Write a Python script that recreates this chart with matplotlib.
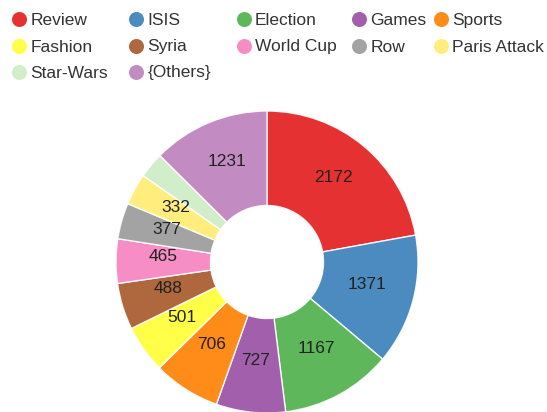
import matplotlib
matplotlib.use("Agg")
import matplotlib.pyplot as plt
from matplotlib.lines import Line2D
import numpy as np

plt.rcParams['font.family'] = ['Liberation Sans', 'DejaVu Sans']

categories = ["Review", "ISIS", "Election", "Games", "Sports", "Fashion",
              "Syria", "World Cup", "Row", "Paris Attack", "Star-Wars", "{Others}"]
values = [2172, 1371, 1167, 727, 706, 501, 488, 465, 377, 332, 270, 1231]
colors = ["#e41a1c", "#377eb8", "#4daf4a", "#984ea3", "#ff7f00", "#ffff33",
          "#a65628", "#f781bf", "#999999", "#ffed6f", "#ccebc5", "#bc80bd"]
label_min = 300

W, H = 547, 412
fig = plt.figure(figsize=(W / 100, H / 100), dpi=100)

cx, cy, r = 267, 262, 151
ax = fig.add_axes([(cx - r) / W, (H - cy - r) / H, 2 * r / W, 2 * r / H])
inner = 56.5 / r
ax.pie(values, colors=colors, startangle=90, counterclock=False, radius=1.0,
       wedgeprops=dict(width=1 - inner, edgecolor="white", linewidth=1.0, alpha=0.9))
ax.set_xlim(-1, 1)
ax.set_ylim(-1, 1)
ax.set_aspect("equal")
ax.axis("off")

# value labels sit with their baseline on the ring's centroid
total = sum(values)
start = 90.0
label_r = (1 + inner) / 2
for v in values:
    sweep = v / total * 360
    mid = np.deg2rad(start - sweep / 2)
    if v >= label_min:
        ax.text(label_r * np.cos(mid), label_r * np.sin(mid), str(v),
                ha="center", va="baseline", fontsize=12.5, color="#222222")
    start -= sweep

# legend grid, five entries per row
col_x = [19, 136, 243.5, 359, 440.5]
row_y = [19, 45.5, 71.5]
for i, (name, c) in enumerate(zip(categories, colors)):
    row, col = divmod(i, 5)
    x = col_x[col]
    y = row_y[row]
    fig.add_artist(Line2D([x / W], [1 - y / H], marker="o", markersize=10.8,
                          color=c, alpha=0.9, markeredgewidth=0,
                          transform=fig.transFigure))
    fig.text((x + 11.5) / W, 1 - y / H, name, ha="left", va="center_baseline",
             fontsize=12.5, color="#333333")

fig.savefig("out.png", dpi=100)
